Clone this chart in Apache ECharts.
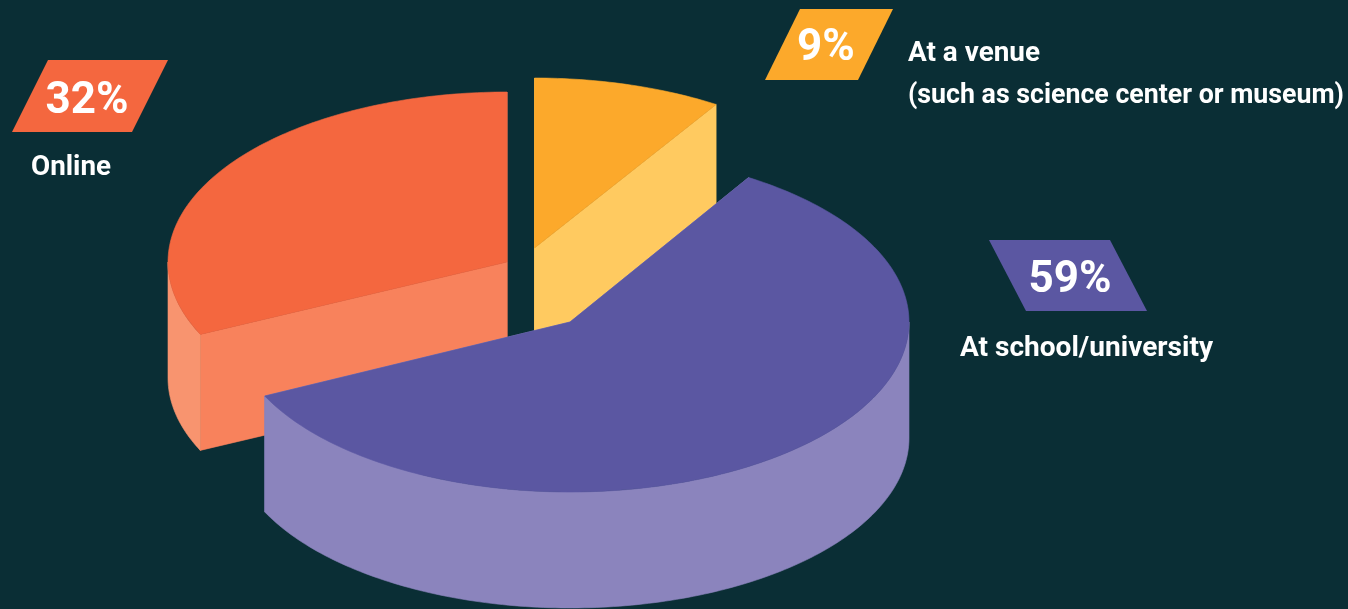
<!DOCTYPE html>
<html>
<head>
<meta charset="utf-8">
<title>Where people take part</title>
<style>html,body{margin:0;height:100%;background:#0a2e35}#chart{width:1348px;height:609px}</style>
<script src="https://cdn.jsdelivr.net/npm/echarts@6/dist/echarts.min.js"></script>
</head>
<body>
<div id="chart"></div>
<script>
// Slice values, in drawing order (back slices first).
const categories = ['Online', 'At a venue\n(such as science center or museum)', 'At school/university'];
const shares = [32, 9, 59];

// Exploded pie projection: each slice has its own centre on the canvas.
const radiusX = 339, radiusY = 170, depth = 116;
const centres = [[507, 262], [534.5, 248], [570, 322]];
const turns = [0, 0, -0.6];
const topColours = ['#f4673f', '#fca92b', '#5b57a2'];
const faceColours = ['#f8825c', '#ffca60', '#8b84bd'];
const wallColours = ['#f8946f', '#ffca60', '#8b84bd'];

// Parallelogram badges and the caption anchor and line widths for each slice.
const badges = [
  { box: [[48, 60], [168, 60], [132, 132], [12, 132]], value: [87, 102] },
  { box: [[800, 9], [893, 9], [858, 80], [765, 80]], value: [826, 49] },
  { box: [[989, 240], [1110, 240], [1147, 311], [1026, 311]], value: [1070, 281] }
];
const captions = [[31, 168], [908, 54], [960, 349]];
const captionWidths = [[80], [132, 436], [253]];

const FONT = 'Roboto, sans-serif';
const CAPTION_FONT = '700 27px ' + FONT;
const total = shares.reduce((a, b) => a + b, 0);
const measure = document.createElement('canvas').getContext('2d');

// The first slice ends at twelve o'clock; angles run clockwise from the top.
function startAngle(index) {
  let sum = -shares[0];
  for (let i = 0; i < index; i++) sum += shares[i];
  return (sum / total) * 360 + turns[index];
}

function rim(c, deg, drop) {
  const r = (deg * Math.PI) / 180;
  return [c[0] + radiusX * Math.sin(r), c[1] - radiusY * Math.cos(r) + drop];
}

function arc(c, from, to, drop) {
  const pts = [];
  const n = Math.max(2, Math.ceil(Math.abs(to - from)));
  for (let i = 0; i <= n; i++) pts.push(rim(c, from + ((to - from) * i) / n, drop));
  return pts;
}

function poly(points, fill) {
  return {
    type: 'polygon',
    shape: { points },
    style: { fill, stroke: fill, lineWidth: 0.6 }
  };
}

function renderSlice(params, api) {
  const i = params.dataIndex;
  const c = centres[i];
  const from = startAngle(i);
  const to = from + (api.value(0) / total) * 360;
  const below = [c[0], c[1] + depth];
  const children = [];

  // Radial cut faces
  [from, to].forEach((deg) => {
    const a = rim(c, deg, 0), b = rim(c, deg, depth);
    children.push(poly([c, a, b, below], faceColours[i]));
  });

  // Outer wall, only where the rim faces the viewer (90 to 270 degrees).
  const norm = (d) => ((d % 360) + 360) % 360;
  const lo = norm(from);
  const hi = lo + (to - from);
  const wallFrom = Math.max(lo, 90), wallTo = Math.min(hi, 270);
  if (wallTo > wallFrom) {
    children.push(poly(
      arc(c, wallFrom, wallTo, 0).concat(arc(c, wallTo, wallFrom, depth)),
      wallColours[i]
    ));
  }

  // Top face
  children.push(poly([c].concat(arc(c, from, to, 0)), topColours[i]));

  // Value badge
  const badge = badges[i];
  children.push({ type: 'polygon', shape: { points: badge.box }, style: { fill: topColours[i] } });
  children.push({
    type: 'text',
    style: {
      text: api.value(0) + '%', x: badge.value[0], y: badge.value[1],
      fill: '#ffffff', font: '700 44px ' + FONT, textAlign: 'center', textVerticalAlign: 'middle'
    }
  });

  // Category caption, each line fitted to its set width
  measure.font = CAPTION_FONT;
  categories[i].split('\n').forEach((line, k) => {
    children.push({
      type: 'text',
      x: captions[i][0], y: captions[i][1] + k * 42,
      scaleX: captionWidths[i][k] / measure.measureText(line).width,
      style: {
        text: line, x: 0, y: 0,
        fill: '#ffffff', font: CAPTION_FONT, textAlign: 'left', textVerticalAlign: 'middle'
      }
    });
  });

  return { type: 'group', children };
}

const chart = echarts.init(document.getElementById('chart'));
chart.setOption({
  backgroundColor: '#0a2e35',
  animation: false,
  series: [{
    type: 'custom',
    coordinateSystem: 'none',
    renderItem: renderSlice,
    data: shares.map((v, i) => ({ name: categories[i], value: [v] })),
    silent: true
  }]
});
</script>
</body>
</html>
